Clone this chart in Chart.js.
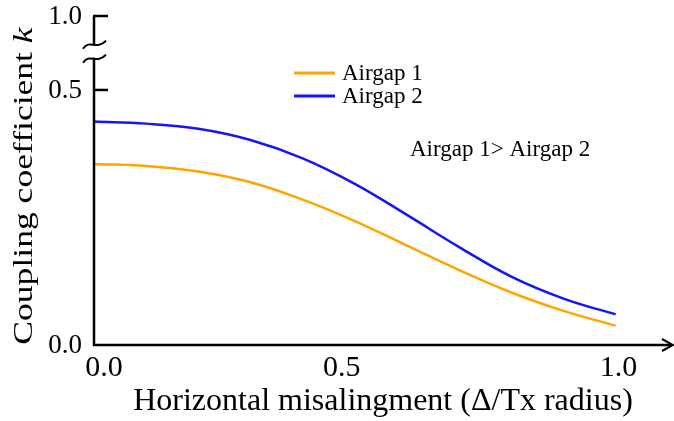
<!DOCTYPE html>
<html>
<head>
<meta charset="utf-8">
<script src="https://cdn.jsdelivr.net/npm/chart.js@4.4.1/dist/chart.umd.min.js"></script>
<style>
  html, body { margin:0; padding:0; background:#fff; }
  #wrap { width:674px; height:421px; }
</style>
</head>
<body>
<div id="wrap"><canvas id="chart" width="674" height="421"></canvas></div>
<script>
// --- data ---
const misalign = [0, 0.1, 0.2, 0.3, 0.4, 0.5, 0.6, 0.7, 0.8, 0.9, 1.0];
const airgap1 = [0.355, 0.351, 0.340, 0.319, 0.285, 0.243, 0.195, 0.147, 0.103, 0.067, 0.038];
const airgap2 = [0.438, 0.434, 0.424, 0.402, 0.366, 0.316, 0.255, 0.192, 0.134, 0.091, 0.060];
const seriesNames = ['Airgap 1', 'Airgap 2'];
const seriesColors = ['#ffa500', '#1414ff'];

// ticks (y axis is broken: top tick stands for 1.0)
const xTickValues = [0, 0.5, 1.0];
const xTickLabels = ['0.0', '0.5', '1.0'];
const yTickValues = [0, 0.5, 0.645];
const yTickLabels = ['0.0', '0.5', '1.0'];
const yBreakAt = 0.575;

const SERIF = '"Liberation Serif", "DejaVu Serif", serif';

function pts(ys){ return misalign.map((x,i)=>({x:x, y:ys[i]})); }

// draws axes, break marks, labels, legend and note
const decor = {
  id: 'decor',
  afterDraw(chart){
    const c = chart.ctx, xs = chart.scales.x, ys = chart.scales.y;
    const x0 = xs.getPixelForValue(0), y0 = ys.getPixelForValue(0);
    const yTop = ys.getPixelForValue(yTickValues[yTickValues.length-1]);
    const xEnd = chart.chartArea.right;
    c.save();
    c.strokeStyle = '#000'; c.fillStyle = '#000'; c.lineWidth = 2.5; c.lineCap = 'butt';

    // y axis
    c.beginPath(); c.moveTo(x0, y0 + 1); c.lineTo(x0, yTop); c.stroke();
    // y ticks (inward)
    yTickValues.forEach(v => {
      if (v === 0) return;
      const y = ys.getPixelForValue(v);
      c.beginPath(); c.moveTo(x0 - 1, y); c.lineTo(x0 + 14, y); c.stroke();
    });
    // axis break
    const yb = ys.getPixelForValue(yBreakAt);
    c.fillStyle = '#fff'; c.fillRect(x0 - 3, yb - 6, 6, 12);
    c.lineWidth = 2;
    [-7, 7].forEach(dy => {
      const y = yb + dy;
      c.beginPath();
      c.moveTo(x0 - 11, y + 4);
      c.bezierCurveTo(x0 - 4, y - 6, x0 + 2, y + 6, x0 + 12, y - 4);
      c.stroke();
    });
    c.fillStyle = '#000'; c.lineWidth = 2.5;

    // x axis with arrow
    c.beginPath(); c.moveTo(x0 - 1, y0); c.lineTo(xEnd - 2, y0); c.stroke();
    c.lineWidth = 2;
    c.beginPath(); c.moveTo(xEnd - 11, y0 - 6); c.lineTo(xEnd, y0); c.lineTo(xEnd - 11, y0 + 6); c.stroke();
    c.lineWidth = 2.5;

    // tick labels
    c.font = '27px ' + SERIF; c.textBaseline = 'middle';
    c.textAlign = 'right';
    yTickValues.forEach((v,i) => c.fillText(yTickLabels[i], x0 - 12, ys.getPixelForValue(v) + 1));
    const xShift = [10, -13, 3];
    c.font = '30px ' + SERIF; c.textAlign = 'center';
    xTickValues.forEach((v,i) => {
      c.fillText(xTickLabels[i], xs.getPixelForValue(v) + xShift[i], y0 + 23);
    });

    // axis titles
    c.font = '32px ' + SERIF; c.textAlign = 'center'; c.textBaseline = 'alphabetic';
    c.fillText('Horizontal misalingment (\u0394/Tx radius)', 383, 410);
    c.save();
    c.translate(25, 186); c.rotate(-Math.PI/2); c.scale(1.27, 1);
    c.textBaseline = 'middle';
    const t1 = 'Coupling coefficient ';
    c.font = '28px ' + SERIF;
    const w1 = c.measureText(t1).width;
    c.font = 'italic 28px ' + SERIF;
    const w2 = c.measureText('k').width;
    c.textAlign = 'left';
    c.font = '28px ' + SERIF; c.fillText(t1, -(w1 + w2)/2, 0);
    c.font = 'italic 28px ' + SERIF; c.fillText('k', -(w1 + w2)/2 + w1, 0);
    c.restore();

    // legend
    c.font = '23px ' + SERIF; c.textAlign = 'left'; c.textBaseline = 'middle';
    chart.data.datasets.forEach((ds,i) => {
      const y = 73 + i * 23;
      c.strokeStyle = ds.borderColor; c.lineWidth = 3;
      c.beginPath(); c.moveTo(294, y); c.lineTo(335, y); c.stroke();
      c.fillStyle = '#000'; c.fillText(ds.label, 342, y + 1);
    });

    // note
    c.font = '23px ' + SERIF;
    c.fillText('Airgap 1> Airgap 2', 410, 150);
    c.restore();
  }
};

new Chart(document.getElementById('chart'), {
  type: 'line',
  data: {
    datasets: [
      { label: seriesNames[0], data: pts(airgap1), borderColor: seriesColors[0], borderWidth: 2.5, pointRadius: 0, tension: 0.4, fill: false },
      { label: seriesNames[1], data: pts(airgap2), borderColor: seriesColors[1], borderWidth: 2.5, pointRadius: 0, tension: 0.4, fill: false }
    ]
  },
  options: {
    responsive: false,
    animation: false,
    layout: { padding: { left: 94, right: 1, top: 16, bottom: 76 } },
    plugins: { legend: { display: false }, tooltip: { enabled: false } },
    scales: {
      x: { type: 'linear', min: 0, max: 1.11, display: false },
      y: { type: 'linear', min: 0, max: 0.645, display: false }
    }
  },
  plugins: [decor]
});
</script>
</body>
</html>
